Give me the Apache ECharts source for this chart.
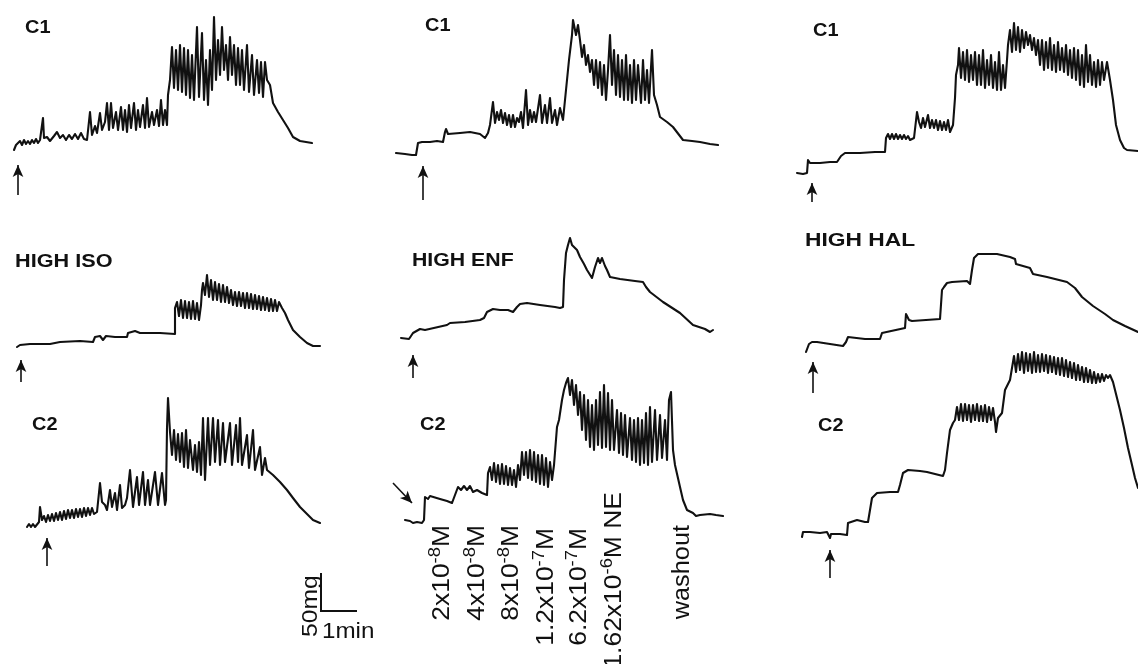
<!DOCTYPE html>
<html><head><meta charset="utf-8">
<script src="https://cdn.jsdelivr.net/npm/echarts/dist/echarts.min.js"></script>
<style>html,body{margin:0;padding:0;background:#fff}#c{width:1138px;height:664px}</style>
</head><body><div id="c"></div><script>
// Isometric tension recordings: time (a.u. along chart paper), tension (a.u. above trace reference)
const c1Iso = [[4,30],[6,35],[8,33],[10,39],[12,35],[14,40],[16,36],[18,39],[20,36],[22,40],[24,37],[26,41],[28,37],[30,40],[32,39],[33,62],[34,42],[37,43],[40,39],[44,44],[47,48],[50,42],[53,45],[56,40],[59,45],[62,41],[65,46],[68,41],[71,47],[74,41],[77,40],[80,68],[82,45],[85,54],[87,47],[90,67],[92,50],[95,58],[97,77],[99,50],[101,77],[103,52],[106,68],[108,50],[111,73],[113,50],[115,70],[117,48],[119,75],[121,52],[124,77],[126,50],[128,70],[130,53],[133,75],[135,52],[137,82],[139,53],[142,68],[144,55],[147,70],[149,54],[151,80],[153,55],[155,70],[157,55],[158,85],[160,100],[162,133],[164,92],[166,130],[168,90],[170,135],[172,88],[174,132],[176,85],[178,130],[180,82],[182,125],[184,80],[187,153],[189,83],[192,147],[194,80],[196,120],[198,75],[200,130],[202,90],[204,163],[206,100],[208,140],[210,105],[212,153],[214,110],[216,135],[218,100],[220,143],[222,105],[224,135],[226,95],[228,132],[230,95],[232,130],[234,90],[237,135],[239,88],[242,125],[244,85],[247,120],[249,87],[251,118],[253,83],[255,118],[257,100],[260,95],[263,77],[268,68],[273,60],[278,52],[283,43],[290,39],[302,37]];
const c1Enf = [[6,27],[15,26],[22,25],[26,25],[28,37],[32,38],[40,38],[47,39],[53,38],[55,48],[56,51],[58,46],[70,47],[80,48],[90,46],[95,42],[98,47],[100,55],[103,78],[105,57],[107,68],[109,60],[111,70],[113,57],[115,67],[117,55],[119,65],[121,53],[123,65],[125,53],[127,62],[129,58],[131,68],[133,52],[136,90],[138,55],[140,70],[142,58],[144,68],[146,58],[150,85],[152,57],[155,75],[157,57],[160,82],[162,57],[165,70],[167,55],[170,72],[173,60],[176,90],[179,120],[182,145],[183,160],[186,145],[188,155],[190,140],[192,123],[194,135],[196,115],[198,125],[200,108],[202,120],[204,95],[206,120],[208,92],[210,118],[212,85],[214,115],[216,80],[218,110],[220,145],[222,95],[224,130],[226,85],[228,125],[230,83],[232,120],[234,80],[236,125],[238,80],[240,115],[242,77],[244,120],[246,80],[248,115],[251,77],[253,120],[255,80],[257,110],[259,77],[262,130],[264,85],[267,75],[270,63],[277,58],[283,53],[293,40],[302,39],[310,38],[320,36],[328,35]];
const c1Hal = [[7,7],[13,6],[17,7],[18,20],[20,17],[30,17],[40,18],[47,18],[51,24],[55,27],[70,27],[85,28],[95,28],[96,42],[98,46],[100,41],[102,46],[104,41],[106,46],[108,41],[110,45],[112,41],[114,45],[116,41],[118,44],[120,40],[124,42],[126,43],[127,68],[129,58],[131,52],[133,62],[135,53],[138,65],[140,52],[142,60],[144,52],[146,60],[148,50],[150,59],[152,50],[154,58],[156,50],[158,60],[160,48],[163,55],[165,82],[166,105],[168,115],[169,132],[171,102],[173,128],[175,100],[177,130],[179,98],[181,125],[183,100],[185,128],[187,95],[189,125],[191,95],[193,130],[195,92],[197,120],[199,95],[201,125],[203,92],[205,118],[207,90],[209,128],[211,90],[213,115],[215,92],[217,120],[218,135],[220,150],[222,128],[224,157],[226,130],[228,153],[230,128],[232,150],[234,132],[236,148],[238,135],[240,145],[242,130],[244,142],[246,125],[248,140],[250,115],[252,140],[254,110],[256,138],[258,112],[260,142],[262,110],[264,135],[266,108],[268,138],[270,110],[272,132],[274,108],[276,135],[278,105],[280,130],[282,102],[284,132],[286,100],[288,130],[290,95],[292,125],[294,93],[296,135],[298,98],[300,125],[302,95],[304,118],[306,93],[308,120],[310,95],[312,118],[314,100],[317,118],[320,100],[323,80],[326,55],[330,40],[334,32],[337,30],[348,29]];
const highIso = [[7,13],[8,11],[10,15],[20,16],[40,16],[50,18],[70,19],[83,18],[85,23],[90,24],[93,20],[96,24],[105,23],[117,23],[118,27],[125,29],[130,27],[150,27],[165,26],[165,52],[167,58],[169,44],[171,60],[173,42],[175,59],[177,42],[179,58],[181,41],[183,59],[185,41],[187,57],[189,40],[191,55],[192,70],[193,77],[195,65],[197,85],[199,63],[201,80],[203,60],[205,78],[207,60],[209,76],[211,58],[213,75],[215,58],[217,73],[219,57],[221,70],[223,55],[225,68],[227,54],[229,68],[231,54],[233,67],[235,52],[237,67],[239,52],[241,66],[243,51],[245,65],[247,51],[249,64],[251,50],[253,63],[255,50],[257,62],[259,49],[261,61],[263,49],[265,60],[267,49],[269,58],[272,52],[275,47],[278,40],[283,30],[290,23],[297,17],[303,14],[310,14]];
const highEnf = [[11,22],[19,21],[21,24],[23,27],[30,31],[35,30],[57,35],[60,37],[75,38],[90,40],[94,42],[97,48],[103,51],[110,50],[118,50],[123,48],[127,53],[130,56],[137,57],[150,55],[165,53],[170,52],[173,53],[174,80],[176,107],[178,115],[180,122],[182,115],[187,110],[190,103],[194,96],[197,90],[202,82],[205,93],[208,102],[210,97],[212,102],[215,94],[217,90],[220,83],[230,81],[245,79],[253,78],[256,73],[260,68],[273,58],[290,47],[303,35],[315,31],[320,28],[323,30]];
const highHal = [[16,8],[18,10],[19,16],[22,18],[27,18],[40,16],[53,14],[56,18],[58,23],[75,21],[90,21],[92,27],[94,29],[115,32],[116,46],[117,48],[119,40],[122,39],[150,41],[152,70],[154,73],[157,77],[162,78],[177,79],[180,76],[182,90],[184,102],[188,106],[207,106],[220,103],[225,101],[226,96],[228,96],[240,92],[243,86],[257,83],[277,78],[285,72],[292,63],[303,54],[315,46],[323,40],[335,34],[348,28]];
const c2Iso = [[17,18],[19,21],[21,18],[23,21],[25,18],[27,19],[29,23],[30,38],[32,25],[34,29],[36,23],[38,30],[40,24],[42,31],[44,24],[46,32],[48,25],[50,33],[52,25],[54,34],[56,26],[58,35],[60,27],[62,35],[64,27],[66,36],[68,28],[70,36],[72,28],[74,37],[76,29],[78,37],[80,30],[82,37],[84,31],[87,33],[90,62],[92,43],[95,40],[97,35],[100,55],[102,38],[105,52],[107,35],[110,60],[112,37],[115,40],[117,47],[120,75],[123,38],[127,68],[129,40],[133,73],[135,40],[138,65],[140,40],[145,73],[148,40],[152,72],[155,40],[156,45],[157,117],[158,147],[160,113],[162,90],[164,115],[166,85],[168,111],[170,83],[172,112],[174,78],[176,115],[178,77],[180,105],[183,75],[185,100],[187,73],[189,103],[191,70],[193,127],[195,65],[198,127],[200,80],[203,127],[205,83],[208,125],[210,80],[213,122],[215,83],[220,122],[222,80],[226,120],[228,83],[230,127],[232,80],[237,110],[239,77],[243,115],[245,75],[250,98],[252,70],[255,87],[257,75],[263,70],[270,63],[277,55],[283,47],[290,38],[297,31],[303,25],[310,22]];
const c2Enf = [[15,25],[20,24],[23,22],[27,23],[32,22],[34,25],[35,48],[38,46],[40,49],[50,46],[57,44],[62,42],[65,50],[68,58],[71,55],[74,59],[77,55],[80,59],[83,53],[87,55],[92,52],[97,50],[98,72],[100,78],[102,65],[104,82],[106,63],[108,80],[110,61],[112,81],[114,61],[116,79],[118,60],[120,77],[122,60],[124,75],[126,58],[128,80],[130,65],[132,93],[134,70],[136,93],[138,67],[140,95],[142,65],[144,93],[146,63],[148,90],[150,61],[152,90],[154,60],[156,87],[158,58],[160,83],[162,65],[164,80],[167,118],[169,125],[172,145],[174,155],[176,162],[178,167],[180,150],[182,165],[184,140],[186,160],[188,130],[190,153],[192,115],[194,150],[196,105],[198,145],[200,98],[202,140],[204,95],[206,145],[208,100],[210,153],[212,97],[214,160],[216,98],[218,152],[220,95],[222,145],[224,95],[227,135],[229,92],[231,132],[233,90],[235,130],[237,88],[240,127],[242,85],[244,125],[246,83],[248,127],[250,80],[252,125],[254,82],[256,132],[258,80],[260,138],[262,83],[265,135],[267,85],[270,130],[272,87],[275,125],[277,85],[279,145],[281,153],[283,95],[285,80],[287,78],[290,58],[293,45],[297,35],[303,32],[306,29],[310,30],[320,31],[326,30],[333,29]];
const c2Hal = [[12,8],[13,13],[20,13],[30,12],[37,13],[39,11],[40,7],[41,11],[50,11],[57,10],[58,22],[67,25],[75,23],[78,23],[80,35],[82,47],[87,52],[100,53],[108,53],[110,60],[113,72],[118,75],[130,74],[137,73],[153,69],[155,75],[157,92],[160,115],[163,122],[165,125],[167,138],[169,125],[171,141],[173,124],[175,141],[177,125],[179,140],[181,123],[183,140],[185,125],[187,141],[189,124],[191,139],[193,124],[195,140],[197,123],[199,138],[201,125],[203,137],[205,123],[206,113],[208,127],[212,132],[215,155],[220,165],[222,177],[224,189],[226,173],[228,191],[230,175],[232,193],[234,172],[236,192],[238,174],[240,191],[242,172],[244,193],[246,173],[248,190],[250,173],[252,191],[254,174],[256,190],[258,172],[260,189],[262,173],[264,188],[266,171],[268,187],[270,170],[272,187],[274,169],[276,185],[278,168],[280,183],[282,167],[284,182],[286,165],[288,180],[290,165],[292,178],[294,163],[296,177],[298,163],[300,175],[302,162],[304,173],[306,162],[308,171],[310,163],[312,171],[314,164],[316,170],[318,167],[320,170],[323,163],[327,147],[330,135],[334,117],[338,97],[342,80],[345,67],[348,57]];

// drug-addition arrows per trace: [tailTime, tailTension, tipTime, tipTension]
const additionArrows = [[8,-15,8,15],[33,-20,33,14],[22,-22,22,-3],[11,-22,11,0],[23,-18,23,5],[23,-33,23,-2],[37,-21,37,7],[3,62,22,42],[40,-33,40,-5]];
const traceLabels = ['C1','C1','C1','HIGH ISO','HIGH ENF','HIGH HAL','C2','C2','C2'];
const doseMantissa = ['2','4','8','1.2','6.2','1.62'];
const doseExponent = ['-8','-8','-8','-7','-7','-6'];
const doseSuffix = ['','','','','',' NE'];
const washoutLabel = 'washout';
// scale bar: 1 min horizontal, 50 mg vertical
const scaleBarMin = [0, 1];
const scaleBarMg = [0, 50];

const traces = [c1Iso, c1Enf, c1Hal, highIso, highEnf, highHal, c2Iso, c2Enf, c2Hal];

// layout
const colLeft = [10, 390, 790], colWidth = [320, 340, 348];
const rowTop = [0, 215, 340], rowHeight = [210, 180, 245], rowMax = [180, 145, 205];
const labelPos = [[25,28],[425,26],[813,31],[15,262],[412,261],[805,241],[32,425],[420,425],[818,426]];
const labelScale = [1.05,1.05,1.05,1.14,1.12,1.2,1.05,1.05,1.05];
const dosePos = [[443,525],[478,525],[512,525],[547,528],[580,528],[615,492]];
const washoutPos = [683,525];

const INK = '#111';
const FONT = "'Liberation Sans', Arial, Helvetica, sans-serif";
const grid = [], xAxis = [], yAxis = [], series = [];
traces.forEach((d, i) => {
  const r = Math.floor(i / 3), c = i % 3;
  grid.push({left: colLeft[c], top: rowTop[r], width: colWidth[c], height: rowHeight[r], containLabel: false});
  xAxis.push({type: 'value', gridIndex: i, min: 0, max: colWidth[c], show: false});
  yAxis.push({type: 'value', gridIndex: i, min: rowMax[r] - rowHeight[r], max: rowMax[r], show: false});
  const a = additionArrows[i];
  series.push({
    type: 'line', xAxisIndex: i, yAxisIndex: i, data: d, showSymbol: false, symbol: 'none', clip: false,
    lineStyle: {color: INK, width: 2.1, join: 'round', cap: 'round'},
    emphasis: {disabled: true}, silent: true,
    markLine: {
      silent: true, symbol: ['none', 'arrow'], symbolSize: 10, animation: false,
      label: {show: false}, emphasis: {disabled: true},
      itemStyle: {color: INK},
      lineStyle: {color: INK, width: 1.6, type: 'solid'},
      data: [[{coord: [a[0], a[1]], symbol: 'none'}, {coord: [a[2], a[3]], symbol: 'arrow', symbolSize: [8, 12]}]]
    }
  });
});
// scale bar grid
const sb = traces.length;
grid.push({left: 321, top: 573, width: 36, height: 38});
xAxis.push({type: 'value', gridIndex: sb, min: 0, max: 1, show: false});
yAxis.push({type: 'value', gridIndex: sb, min: 0, max: 50, show: false});
series.push({type: 'line', xAxisIndex: sb, yAxisIndex: sb, showSymbol: false, symbol: 'none', clip: false, silent: true,
  data: [[scaleBarMin[0], scaleBarMg[1]], [scaleBarMin[0], scaleBarMg[0]], [scaleBarMin[1], scaleBarMg[0]]],
  lineStyle: {color: INK, width: 2, join: 'miter'}});

const graphic = [];
traceLabels.forEach((t, i) => {
  graphic.push({type: 'text', x: labelPos[i][0], y: labelPos[i][1], scaleX: labelScale[i], silent: true,
    style: {text: t, font: 'bold 19px ' + FONT, fill: INK, align: 'left', verticalAlign: 'middle', textAlign: 'left', textVerticalAlign: 'middle'}});
});
const rich = {n: {fontSize: 23, lineHeight: 30, fontFamily: FONT, fill: INK, color: INK},
              s: {fontSize: 16, lineHeight: 16, verticalAlign: 'top', fontFamily: FONT, fill: INK, color: INK}};
doseMantissa.forEach((m, i) => {
  graphic.push({type: 'text', x: dosePos[i][0], y: dosePos[i][1], rotation: Math.PI / 2, scaleX: 1.15, silent: true,
    style: {text: '{n|' + m + 'x10}{s|' + doseExponent[i] + '}{n|M' + doseSuffix[i] + '}', rich: rich,
      font: '23px ' + FONT, fill: INK, align: 'right', verticalAlign: 'middle', textAlign: 'right', textVerticalAlign: 'middle'}});
});
graphic.push({type: 'text', x: washoutPos[0], y: washoutPos[1], rotation: Math.PI / 2, scaleX: 1.1, silent: true,
  style: {text: washoutLabel, font: '23px ' + FONT, fill: INK, align: 'right', verticalAlign: 'middle', textAlign: 'right', textVerticalAlign: 'middle'}});
graphic.push({type: 'text', x: 311, y: 637, rotation: Math.PI / 2, scaleX: 1.12, silent: true,
  style: {text: '50mg', font: '22px ' + FONT, fill: INK, align: 'left', verticalAlign: 'middle', textAlign: 'left', textVerticalAlign: 'middle'}});
graphic.push({type: 'text', x: 322, y: 632, scaleX: 1.1, silent: true,
  style: {text: '1min', font: '22px ' + FONT, fill: INK, align: 'left', verticalAlign: 'middle', textAlign: 'left', textVerticalAlign: 'middle'}});

const chart = echarts.init(document.getElementById('c'), null, {renderer: 'canvas'});
chart.setOption({animation: false, backgroundColor: '#fff', grid, xAxis, yAxis, series, graphic, tooltip: {show: false}});
</script></body></html>
